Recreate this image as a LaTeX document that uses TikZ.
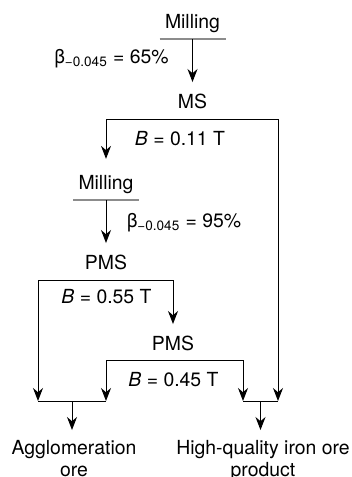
\documentclass[tikz,border=0pt]{standalone}
\usepackage{fontspec}
\setmainfont{TeX Gyre Heros}
\usepackage{tikz}
\usetikzlibrary{arrows.meta}

\begin{document}
\begin{tikzpicture}[x=5pt,y=-5pt,line width=0.5pt,
    every node/.style={font=\fontsize{9.7}{10.8}\selectfont,inner sep=0pt},
    arr/.style={-{Stealth[length=6.5pt,width=5pt]}},
    mill/.style={anchor=south,inner ysep=5pt,text depth=0pt,minimum width=32.5pt},
    sep/.style={anchor=base,inner ysep=5.5pt},
    note/.style={anchor=base},
    prod/.style={anchor=north,align=center,inner ysep=5pt}]
    \useasboundingbox (0,0) rectangle (35.2,47.7);

    % draw nodes
    \node[mill] (mill1) at (19.25,3.9) {Milling};
    \node[note] (beta1) at (11.15,6.3) {β\textsubscript{−0.045} = 65\%};
    \node[sep] (ms) at (19.25,10.8) {MS};
    \node[note] (b1) at (18.0,14.5) {\textit{B} = 0.11 T};
    \node[mill] (mill2) at (10.6,20.0) {Milling};
    \node[note] (beta2) at (18.4,22.7) {β\textsubscript{−0.045} = 95\%};
    \node[sep] (pms1) at (10.6,26.9) {PMS};
    \node[note] (b2) at (10.65,30.3) {\textit{B} = 0.55 T};
    \node[sep] (pms2) at (17.3,35.0) {PMS};
    \node[note] (b3) at (17.35,38.6) {\textit{B} = 0.45 T};
    \node[prod] (agg) at (7.4,43.0) {Agglomeration\\ore};
    \node[prod] (hq) at (26.3,43.0) {High-quality iron ore\\product};

    % draw bar ends
    \coordinate (msL) at (10.6,11.9);
    \coordinate (msR) at (27.8,11.9);
    \coordinate (p1L) at (3.8,28.0);
    \coordinate (p1R) at (17.3,28.0);
    \coordinate (p2L) at (10.6,36.0);
    \coordinate (p2R) at (24.3,36.0);
    \coordinate (aggL) at (3.8,40.1);
    \coordinate (aggR) at (10.6,40.1);
    \coordinate (aggJ) at (7.2,40.1);
    \coordinate (hqL) at (24.3,40.1);
    \coordinate (hqR) at (27.8,40.1);
    \coordinate (hqJ) at (26.05,40.1);

    % draw underlines
    \draw[black!45,line width=0.7pt] (mill1.south west) -- (mill1.south east);
    \draw[black!45,line width=0.7pt] (mill2.south west) -- (mill2.south east);

    % draw horizontal lines
    \draw (msL) -- (msR);
    \draw (p1L) -- (p1R);
    \draw (p2L) -- (p2R);
    \draw (aggL) -- (aggR);
    \draw (hqL) -- (hqR);

    % draw arrows
    \draw[arr] (mill1.south) -- (mill1.south |- ms.north);
    \draw[arr,shorten >=3pt] (msL) -- (mill2.north);
    \draw[arr] (msR) -- (hqR);
    \draw[arr] (mill2.south) -- (pms1.north);
    \draw[arr] (p1L) -- (aggL);
    \draw[arr] (p1R) -- (pms2.north);
    \draw[arr] (p2L) -- (aggR);
    \draw[arr] (p2R) -- (hqL);
    \draw[arr] (aggJ) -- (aggJ |- agg.north);
    \draw[arr] (hqJ) -- (hqJ |- hq.north);
  \end{tikzpicture}
\end{document}
